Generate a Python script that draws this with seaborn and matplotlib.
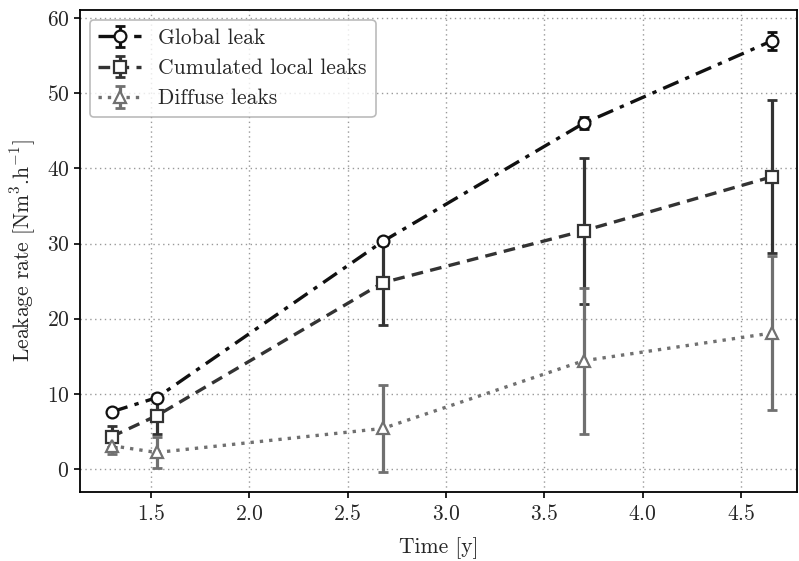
import numpy as np
import pandas as pd
import matplotlib
matplotlib.use("Agg")
import matplotlib.pyplot as plt
import seaborn as sns
from matplotlib.container import ErrorbarContainer

time = [1.30, 1.53, 2.68, 3.70, 4.66]
global_leak = [7.6, 9.5, 30.3, 46.0, 57.0]
global_err = [0.4, 0.5, 0.5, 0.8, 1.2]
local_leaks = [4.3, 7.1, 24.8, 31.7, 38.9]
local_err = [1.4, 2.4, 5.7, 9.7, 10.2]
diffuse_leaks = [3.1, 2.2, 5.4, 14.4, 18.1]
diffuse_err = [1.1, 2.1, 5.8, 9.7, 10.3]
labels = ["Global leak", "Cumulated local leaks", "Diffuse leaks"]

sns.set_style("ticks")
plt.rcParams.update({
    "font.family": "serif",
    "font.serif": ["cmr10", "DejaVu Serif"],
    "mathtext.fontset": "cm",
    "axes.formatter.use_mathtext": True,
    "font.size": 15.5,
})

fig = plt.figure(figsize=(7.99, 5.61), dpi=100)
ax = fig.add_axes([0.100, 0.123, 0.8975, 0.859])

series = [
    (global_leak, global_err, "#111111", (0, (5, 2.2, 1.3, 2.2)), "o"),
    (local_leaks, local_err, "#333333", (0, (3.5, 2.2)), "s"),
    (diffuse_leaks, diffuse_err, "#707070", (0, (1, 1.8)), "^"),
]

handles = []
for (vals, errs, color, ls, mk), lab in zip(series, labels):
    df = pd.DataFrame({"t": time, "v": vals})
    eb = ax.errorbar(time, vals, yerr=errs, fmt="none", ecolor=color,
                     elinewidth=2.3, capsize=3.5, capthick=2, zorder=2)
    sns.lineplot(data=df, x="t", y="v", ax=ax, color=color, linewidth=2.4,
                 marker=mk, markersize=8.5, markerfacecolor="white",
                 markeredgecolor=color, markeredgewidth=1.6, zorder=3)
    line = ax.lines[-1]
    line.set_linestyle(ls)
    handles.append(ErrorbarContainer((line, eb.lines[1], eb.lines[2]),
                                     has_xerr=False, has_yerr=True))

ax.grid(True, linestyle=(0, (1, 2.5)), color="#999999", linewidth=1.0)
ax.set_xlim(1.139, 4.785)
ax.set_ylim(-3.06, 61.06)
ax.set_xticks([1.5, 2.0, 2.5, 3.0, 3.5, 4.0, 4.5])
ax.set_yticks([0, 10, 20, 30, 40, 50, 60])
ax.set_xlabel("Time [y]", labelpad=9)
ax.set_ylabel(r"Leakage rate [Nm$^3$.h$^{-1}$]", labelpad=6)
for s in ax.spines.values():
    s.set_linewidth(1.3)
    s.set_color("black")
ax.tick_params(width=1.2, length=4, color="black", labelsize=15.5)
ax.tick_params(axis="x", pad=5)

leg = ax.legend(handles, labels, loc="upper left", handlelength=2.0,
                fontsize=15.5, frameon=True, fancybox=True, edgecolor="#aaaaaa",
                borderaxespad=0.45)
leg.get_frame().set_linewidth(1.2)

fig.savefig("out.png", dpi=100)
